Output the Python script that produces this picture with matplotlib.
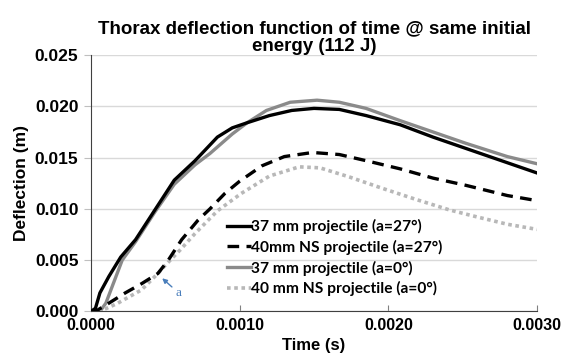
import numpy as np
import matplotlib
matplotlib.use('Agg')
import matplotlib.pyplot as plt

# tiempos en ms, se pasan a s al dibujar
t_37_27 = [0, 0.03, 0.06, 0.12, 0.20, 0.30, 0.43, 0.56, 0.70, 0.85, 0.95, 1.05, 1.20,
           1.35, 1.50, 1.67, 1.85, 2.08, 2.30, 2.52, 2.80, 3.00]
d_37_27 = [0, 0.0003, 0.0018, 0.0034, 0.0053, 0.0070, 0.0099, 0.0128, 0.0147, 0.0170,
           0.0179, 0.0184, 0.0191, 0.0196, 0.0198, 0.0197, 0.0191, 0.0182, 0.0170,
           0.0159, 0.0145, 0.0135]

t_40_27 = [0, 0.03, 0.12, 0.23, 0.34, 0.45, 0.52, 0.61, 0.72, 0.80, 0.90, 1.00, 1.15,
           1.30, 1.49, 1.67, 1.85, 2.08, 2.30, 2.52, 2.80, 3.00]
d_40_27 = [0, 0, 0.0008, 0.0018, 0.0027, 0.0037, 0.0050, 0.0070, 0.0089, 0.0100,
           0.0115, 0.0127, 0.0142, 0.0151, 0.0155, 0.0153, 0.0147, 0.0139, 0.0130,
           0.0123, 0.0113, 0.0108]

t_37_0 = [0, 0.06, 0.10, 0.21, 0.30, 0.43, 0.56, 0.70, 0.80, 0.95, 1.05, 1.18, 1.34, 1.52,
          1.67, 1.85, 2.08, 2.30, 2.52, 2.80, 3.00]
d_37_0 = [0, 0, 0.0008, 0.0050, 0.0068, 0.0097, 0.0124, 0.0143, 0.0154, 0.0173, 0.0184,
          0.0196, 0.0204, 0.0206, 0.0204, 0.0198, 0.0186, 0.0175, 0.0164, 0.0151, 0.0144]

t_40_0 = [0, 0.06, 0.18, 0.34, 0.45, 0.50, 0.60, 0.70, 0.85, 1.01, 1.20, 1.40, 1.54,
          1.74, 1.96, 2.19, 2.41, 2.60, 2.80, 3.00]
d_40_0 = [0, 0, 0.0008, 0.0021, 0.0037, 0.0045, 0.0060, 0.0076, 0.0098, 0.0115,
          0.0132, 0.0141, 0.0140, 0.0131, 0.0120, 0.0109, 0.0099, 0.0092, 0.0085, 0.0080]

etiquetas = ['37 mm projectile (a=27°)', '40mm NS projectile (a=27°)',
             '37 mm projectile (a=0°)', '40 mm NS projectile (a=0°)']
x_ticks = [0.0, 0.001, 0.002, 0.003]
y_ticks = [0.0, 0.005, 0.010, 0.015, 0.020, 0.025]

plt.rcParams['font.family'] = ['Liberation Sans', 'DejaVu Sans']

fig = plt.figure(figsize=(5.63, 3.6), dpi=100)
ax = fig.add_axes([0.1616, 0.135, 0.954 - 0.1616, 0.847 - 0.135])

ms = lambda t: np.array(t) / 1000.0

ax.plot(ms(t_37_27), d_37_27, color='black', lw=2.4, label=etiquetas[0], zorder=4)
ax.plot(ms(t_40_27), d_40_27, color='black', lw=2.4, ls=(0, (3.5, 2.2)), label=etiquetas[1], zorder=4)
ax.plot(ms(t_37_0), d_37_0, color='#8a8a8a', lw=2.4, label=etiquetas[2], zorder=3)
ax.plot(ms(t_40_0), d_40_0, color='#b8b8b8', lw=2.6, ls=(0, (1.0, 1.0)), label=etiquetas[3], zorder=3)

ax.set_xlim(0, 0.003)
ax.set_ylim(0, 0.025)
ax.set_xticks(x_ticks)
ax.set_yticks(y_ticks)
ax.set_xticklabels([f'{v:.4f}' for v in x_ticks], fontweight='bold', fontsize=11.5)
ax.set_yticklabels([f'{v:.3f}' for v in y_ticks], fontweight='bold', fontsize=12.5)
ax.yaxis.grid(True, color='#d9d9d9', lw=1)
ax.set_axisbelow(True)
for s in ['top', 'right']:
    ax.spines[s].set_visible(False)
ax.spines['left'].set_color('#404040')
ax.spines['bottom'].set_color('#404040')
ax.tick_params(axis='x', direction='in', length=4, color='#808080', pad=5)
ax.tick_params(axis='y', direction='out', length=5, color='#bfbfbf', pad=4)

ax.set_title('Thorax deflection function of time @ same initial\nenergy (112 J)',
             fontweight='bold', fontsize=13.5, linespacing=1.1, pad=2)
ax.set_xlabel('Time (s)', fontweight='bold', fontsize=12, labelpad=3)
ax.set_ylabel('Deflection (m)', fontweight='bold', fontsize=12.5, labelpad=4)

leg = ax.legend(loc='lower left', bbox_to_anchor=(0.29, 0.035), frameon=False,
                prop={'family': 'Lato', 'weight': 'bold', 'size': 11.2},
                handlelength=1.6, handletextpad=0.0, labelspacing=0.36, borderaxespad=0)

ax.annotate('a', xy=(0.000479, 0.00323), xytext=(0.000570, 0.0015),
            color='#4a7ebb', fontsize=9.5, family='Liberation Serif',
            arrowprops=dict(arrowstyle='-|>', color='#4a7ebb', lw=1, shrinkA=1, shrinkB=0,
                            mutation_scale=7))

plt.savefig('out.png', dpi=100)
